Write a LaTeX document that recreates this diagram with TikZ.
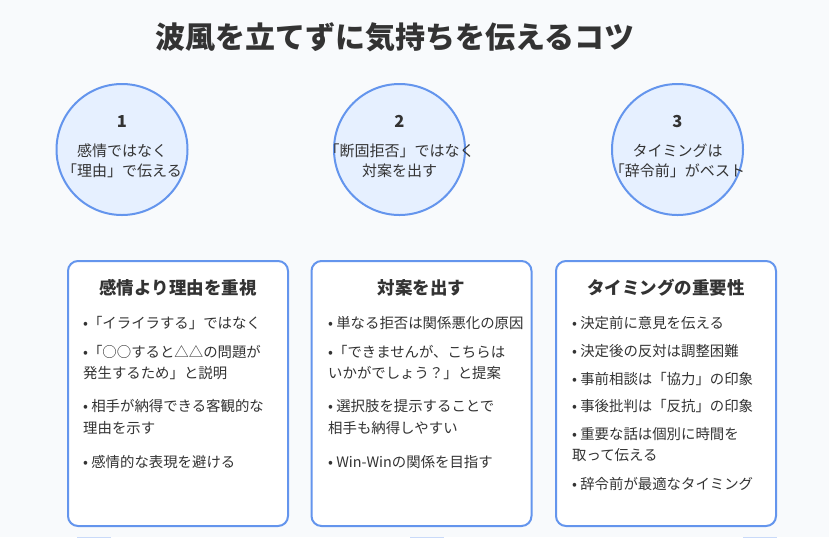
\documentclass[tikz,border=0pt]{standalone}
\usepackage{fontspec}
\setmainfont{Noto Sans CJK JP}
\usetikzlibrary{positioning}
\definecolor{bgpage}{HTML}{F8FAFC}
\definecolor{ringblue}{HTML}{6495ED}
\definecolor{ringfill}{HTML}{E6F0FF}
\definecolor{inkgray}{HTML}{333333}

\begin{document}
\begin{tikzpicture}[x=1pt, y=-1pt]
    \tikzset{circ/.style={circle, draw=ringblue, fill=ringfill, line width=2pt, minimum size=131pt, inner sep=0pt},
        card/.style={draw=ringblue, fill=white, line width=2pt, rounded corners=10pt, minimum width=220pt, minimum height=265pt, inner sep=0pt},
        txt/.style={text=inkgray, inner sep=0pt, yshift=-2.5pt, text height=0.88em, text depth=0.12em, font=\fontsize{14.4}{17}\selectfont},
        item/.style={txt, anchor=west},
        label/.style={txt, font=\fontsize{15}{18}\selectfont},
        num/.style={txt, font=\fontsize{16.5}{19}\selectfont\bfseries},
        head/.style={txt, font=\fontsize{17.5}{21}\selectfont\bfseries},
        frag/.style={ringblue!35, line width=1pt}}
    \useasboundingbox (0,0) rectangle (829,547);
    \fill[bgpage] (0,0) rectangle (829,537);
    \fill[white] (0,537) rectangle (829,547);
    % title
    \node[txt, font=\fontsize{30}{34}\selectfont\bfseries] (title) at (395,42) {波風を立てずに気持ちを伝えるコツ};
    % the three points
    \node[circ] (circ1) at (122,149.5) {};
    \node[circ] (circ2) at (399.5,149.5) {};
    \node[circ] (circ3) at (677.5,149.5) {};
    \node[num] (num1) at (122,121) {1};
    \node[label] (c1a) at (122,150) {感情ではなく};
    \node[label] (c1b) at (122,170) {「理由」で伝える};
    \node[num] (num2) at (399.5,121) {2};
    \node[label] (c2a) at (399.5,150) {「断固拒否」ではなく};
    \node[label] (c2b) at (399.5,170) {対案を出す};
    \node[num] (num3) at (677.5,121) {3};
    \node[label] (c3a) at (677.5,150) {タイミングは};
    \node[label] (c3b) at (677.5,170) {「辞令前」がベスト};
    % cards
    \node[card] (box1) at (178,393.5) {};
    \node[card] (box2) at (421.5,393.5) {};
    \node[card] (box3) at (666,393.5) {};
    \node[head] (head1) at (178,288) {感情より理由を重視};
    \node[head] (head2) at (421.5,288) {対案を出す};
    \node[head] (head3) at (666,288) {タイミングの重要性};
    % card 1
    \node[item] (b1a) at (83,322) {•「イライラする」ではなく};
    \node[item] (b1b) at (83,351) {•「○○すると△△の問題が};
    \node[item] (b1c) at (83,372) {発生するため」と説明};
    \node[item] (b1d) at (83,405) {• 相手が納得できる客観的な};
    \node[item] (b1e) at (83,427) {理由を示す};
    \node[item] (b1f) at (83,461) {• 感情的な表現を避ける};
    % card 2
    \node[item] (b2a) at (328,322) {• 単なる拒否は関係悪化の原因};
    \node[item] (b2b) at (328,351) {•「できませんが、こちらは};
    \node[item] (b2c) at (328,372) {いかがでしょう？」と提案};
    \node[item] (b2d) at (328,405) {• 選択肢を提示することで};
    \node[item] (b2e) at (328,427) {相手も納得しやすい};
    \node[item] (b2f) at (328,461) {• Win-Winの関係を目指す};
    % card 3
    \node[item] (b3a) at (572,322) {• 決定前に意見を伝える};
    \node[item] (b3b) at (572,350) {• 決定後の反対は調整困難};
    \node[item] (b3c) at (572,378) {• 事前相談は「協力」の印象};
    \node[item] (b3d) at (572,405) {• 事後批判は「反抗」の印象};
    \node[item] (b3e) at (572,433) {• 重要な話は個別に時間を};
    \node[item] (b3f) at (572,454) {取って伝える};
    \node[item] (b3g) at (572,483) {• 辞令前が最適なタイミング};
    % cut-off shapes at the lower edge
    \draw[frag] (77,537.5) -- (111,537.5);
    \draw[frag] (410,537.5) -- (444,537.5);
    \draw[frag] (743,537.5) -- (777,537.5);
\end{tikzpicture}
\end{document}
